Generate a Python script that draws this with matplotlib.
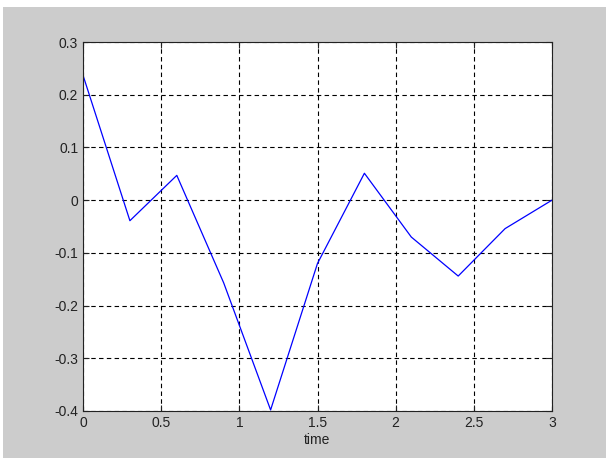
import numpy as np
from matplotlib import pyplot as plt
from matplotlib.patches import Rectangle

# valeurs
t = [0.0, 0.3, 0.6, 0.9, 1.2, 1.5, 1.8, 2.1, 2.4, 2.7, 3.0]
y = [0.237, -0.039, 0.047, -0.157, -0.398, -0.12, 0.051, -0.07, -0.144, -0.054, 0.0]
xticks = [0, 0.5, 1, 1.5, 2, 2.5, 3]
yticks = [-0.4, -0.3, -0.2, -0.1, 0, 0.1, 0.2, 0.3]

plt.rcParams['font.family'] = ['Liberation Sans', 'DejaVu Sans']

fig = plt.figure(figsize=(6.06, 4.58), dpi=100, facecolor='white')
# fond gris façon figure matlab (petite marge blanche en haut et à gauche)
fig.patches.append(Rectangle((3 / 606, 0), 1, (458 - 7) / 458, transform=fig.transFigure,
                             facecolor='#cccccc', edgecolor='none', zorder=-1))

ax = fig.add_axes([83 / 606, (458 - 411) / 458, 469 / 606, 369 / 458])
ax.plot(t, y, color='#0000ff', lw=0.9)

ax.set_xlim(0, 3)
ax.set_ylim(-0.4, 0.3)
ax.set_xticks(xticks)
ax.set_xticklabels(['0', '0.5', '1', '1.5', '2', '2.5', '3'])
ax.set_yticks(yticks)
ax.set_yticklabels(['-0.4', '-0.3', '-0.2', '-0.1', '0', '0.1', '0.2', '0.3'])
ax.tick_params(direction='in', length=4, width=0.8, labelsize=10, colors='#222222',
               top=True, right=True)
ax.grid(True, color='black', linestyle=(0, (4, 3)), lw=0.8)
for s in ax.spines.values():
    s.set_color('#222222')
    s.set_linewidth(0.8)
ax.set_xlabel('time', fontsize=10, color='#222222', labelpad=2)

fig.savefig('out.png', dpi=100, facecolor=fig.get_facecolor())
